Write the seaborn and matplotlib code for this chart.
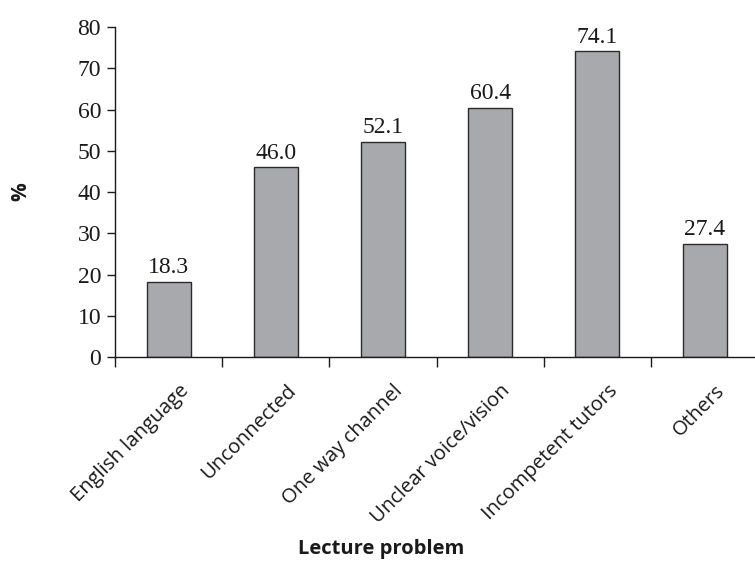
import matplotlib
matplotlib.use("Agg")
import matplotlib.pyplot as plt
import matplotlib.transforms as mtransforms
import seaborn as sns
import pandas as pd
import numpy as np

categories = ["English language", "Unconnected", "One way channel",
              "Unclear voice/vision", "Incompetent tutors", "Others"]
percent = [18.3, 46.0, 52.1, 60.4, 74.1, 27.4]
y_ticks = [0, 10, 20, 30, 40, 50, 60, 70, 80]

df = pd.DataFrame({"problem": categories, "pct": percent})

sns.set_theme(style="ticks")
plt.rcParams["font.family"] = ["Liberation Serif", "DejaVu Serif"]
SANS = ["Open Sans", "DejaVu Sans"]

fig = plt.figure(figsize=(7.55, 5.63), dpi=100)
ax = fig.add_axes([0.1523, 0.3659, 0.8477, 0.5861])

sns.barplot(data=df, x="problem", y="pct", ax=ax, color="#a8a9ac",
            edgecolor="#2b2b2b", linewidth=1.0, width=0.41, saturation=1)

ax.set_ylim(0, 80)
ax.set_xlim(-0.5, 5.47)
ax.set_yticks(y_ticks)
ax.set_yticklabels([str(t) for t in y_ticks], fontsize=17, color="#1a1a1a")

# value labels above each bar
for i, v in enumerate(percent):
    ax.text(i, v + 0.9, f"{v:.1f}", ha="center", va="bottom", fontsize=17,
            color="#1a1a1a")

# category ticks at boundaries, labels at bar centres
ax.set_xticks(np.arange(-0.5, 5.5, 1.0))
ax.set_xticklabels([])
ax.set_xticks(np.arange(len(categories)), minor=True)
ax.set_xticklabels(categories, minor=True, rotation=45, ha="right",
                   va="center", rotation_mode="anchor", fontsize=14.5,
                   family=SANS, color="#1a1a1a")
ax.tick_params(axis="x", which="minor", length=0, pad=0)
ax.tick_params(axis="x", which="major", length=7, width=1.0, direction="out",
               color="#1a1a1a")
shift = mtransforms.ScaledTranslation(17 / 100, -31 / 100, fig.dpi_scale_trans)
for lab in ax.get_xticklabels(minor=True):
    lab.set_transform(lab.get_transform() + shift)
ax.tick_params(axis="y", length=6, width=1.0, color="#1a1a1a", pad=4)

ax.set_xlabel("")
ax.set_ylabel("")
fig.text(0.505, 0.025, "Lecture problem", fontsize=14.5, fontweight="bold",
         family=SANS, ha="center", va="center", color="#1a1a1a")
fig.text(0.027, 0.66, "%", rotation=90, fontsize=15, fontweight="bold",
         family=SANS, ha="center", va="center", color="#1a1a1a")

for s in ["top", "right"]:
    ax.spines[s].set_visible(False)
for s in ["left", "bottom"]:
    ax.spines[s].set_linewidth(1.0)
    ax.spines[s].set_color("#1a1a1a")

fig.savefig("out.png", dpi=100)
